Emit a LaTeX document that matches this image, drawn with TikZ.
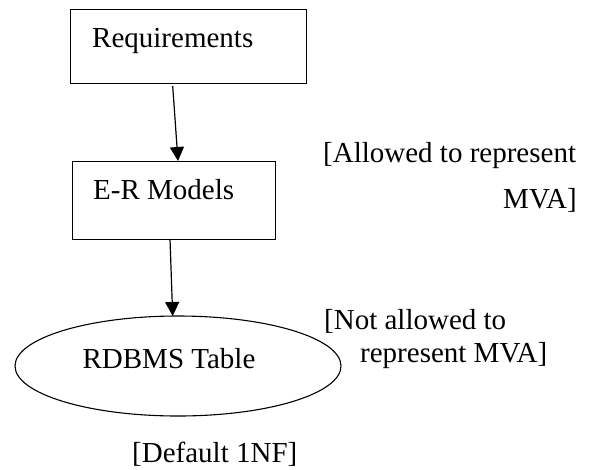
\documentclass[tikz,border=0pt]{standalone}
\usepackage{fontspec}
\setmainfont{Liberation Serif}
\usetikzlibrary{arrows.meta,shapes.geometric}
\begin{document}
\begin{tikzpicture}[x=1pt,y=-1pt,
  box/.style={draw=black,line width=1.3pt,rectangle,inner sep=0pt,anchor=north west},
  oval/.style={draw=black,line width=1.1pt,ellipse,inner sep=0pt},
  txt/.style={inner sep=0pt,font=\fontsize{29}{34}\selectfont},
  arr/.style={line width=1.2pt,-{Triangle[length=14pt,width=14pt]}}]
  \useasboundingbox[fill=white] (0,0) rectangle (604,469);

  % process boxes
  \node[box,minimum width=236.5pt,minimum height=74pt] (req) at (69.5,9) {};
  \node[txt,anchor=base west] (reqt) at (92,47) {Requirements};
  \node[box,minimum width=203.3pt,minimum height=78pt] (er) at (71.7,161) {};
  \node[txt,anchor=base west] (ert) at (93,199) {E-R Models};

  % table ellipse
  \node[oval,minimum width=326pt,minimum height=100pt] (tab) at (178,366) {};
  \node[txt,anchor=base] (tabt) at (169,368) {RDBMS Table};

  % connectors
  \coordinate (a1s) at (172.7,86);
  \coordinate (a1e) at (178,161);
  \coordinate (a2s) at (170,239);
  \coordinate (a2e) at (172.7,316);
  \draw[arr] (a1s) -- (a1e);
  \draw[arr] (a2s) -- (a2e);

  % annotations
  \node[txt,anchor=base west] (n1) at (323,162) {[Allowed to represent};
  \node[txt,anchor=base east] (n2) at (577,208) {MVA]};
  \node[txt,anchor=base west] (n3) at (324,329) {[Not allowed to};
  \node[txt,anchor=base west] (n4) at (360,362) {represent MVA]};
  \node[txt,anchor=base west] (n5) at (132,462) {[Default 1NF]};
\end{tikzpicture}
\end{document}
